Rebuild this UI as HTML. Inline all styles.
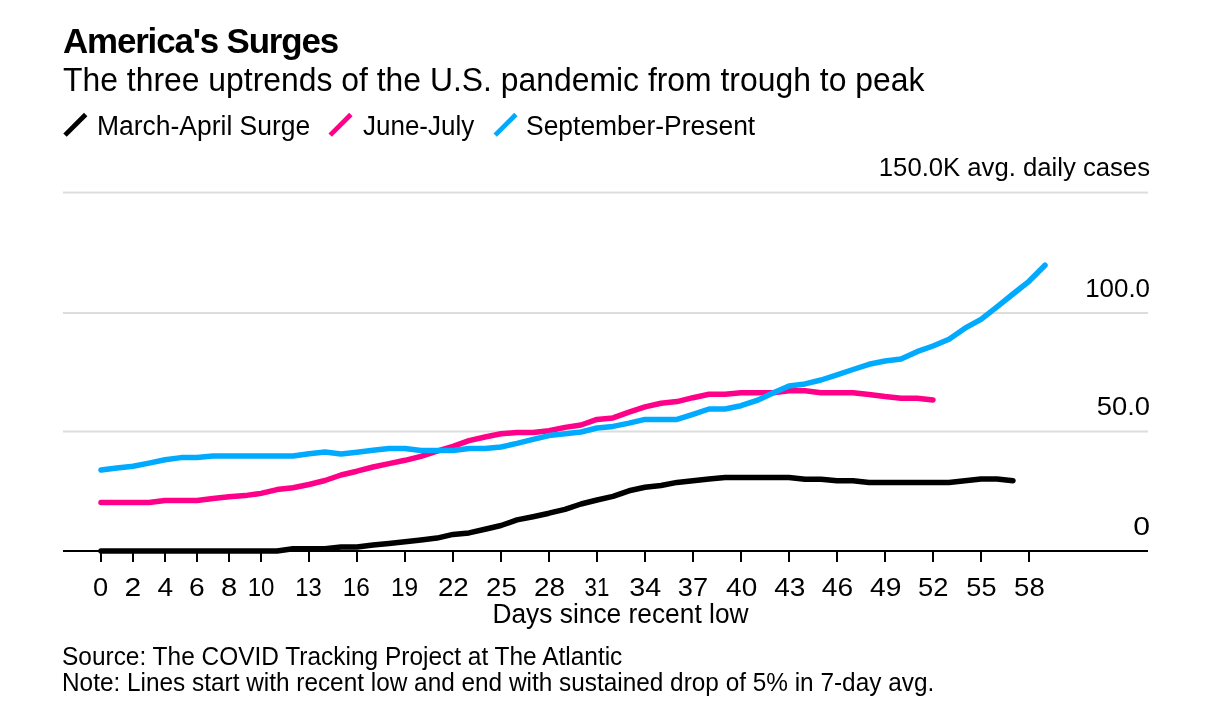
<!DOCTYPE html>
<html lang="en">
<head>
<meta charset="utf-8">
<title>America's Surges</title>
<style>
html,body{margin:0;padding:0;background:#fff;}
body{width:1214px;height:719px;position:relative;overflow:hidden;font-family:"Liberation Sans",sans-serif;color:#000;}
.chart{will-change:transform;position:absolute;margin:0;padding:0;left:0;top:0;width:1214px;height:719px;}
.t{position:absolute;margin:0;padding:0;white-space:nowrap;line-height:1;transform-origin:0 0;font-weight:400;}
.title{font-weight:700;}
.plot{position:absolute;left:0;top:0;}
.plot text{font-family:"Liberation Sans",sans-serif;fill:#000;}
</style>
</head>
<body>
<figure class="chart">
<h1 class="t title" style="left:62.60px;top:23.79px;font-size:34.5px;transform:scaleX(1.0120);letter-spacing:-1.15px;">America's Surges</h1>
<p class="t sub" style="left:63.00px;top:63.06px;font-size:33px;transform:scaleX(0.9662);">The three uptrends of the U.S. pandemic from trough to peak</p>
<svg class="plot" width="1214" height="719" viewBox="0 0 1214 719">
<rect x="63" y="191.55" width="1085" height="2" fill="#DDDDDD"/>
<rect x="63" y="312.00" width="1085" height="2" fill="#DDDDDD"/>
<rect x="63" y="430.50" width="1085" height="2" fill="#DDDDDD"/>
<rect x="63" y="550" width="1085" height="2" fill="#000"/>
<rect x="100.0" y="551" width="2" height="11" fill="#000"/>
<rect x="132.0" y="551" width="2" height="11" fill="#000"/>
<rect x="164.0" y="551" width="2" height="11" fill="#000"/>
<rect x="196.0" y="551" width="2" height="11" fill="#000"/>
<rect x="228.0" y="551" width="2" height="11" fill="#000"/>
<rect x="260.0" y="551" width="2" height="11" fill="#000"/>
<rect x="308.0" y="551" width="2" height="11" fill="#000"/>
<rect x="356.0" y="551" width="2" height="11" fill="#000"/>
<rect x="404.0" y="551" width="2" height="11" fill="#000"/>
<rect x="452.0" y="551" width="2" height="11" fill="#000"/>
<rect x="500.0" y="551" width="2" height="11" fill="#000"/>
<rect x="548.0" y="551" width="2" height="11" fill="#000"/>
<rect x="596.0" y="551" width="2" height="11" fill="#000"/>
<rect x="644.0" y="551" width="2" height="11" fill="#000"/>
<rect x="692.0" y="551" width="2" height="11" fill="#000"/>
<rect x="740.0" y="551" width="2" height="11" fill="#000"/>
<rect x="788.0" y="551" width="2" height="11" fill="#000"/>
<rect x="836.0" y="551" width="2" height="11" fill="#000"/>
<rect x="884.0" y="551" width="2" height="11" fill="#000"/>
<rect x="932.0" y="551" width="2" height="11" fill="#000"/>
<rect x="980.0" y="551" width="2" height="11" fill="#000"/>
<rect x="1028.0" y="551" width="2" height="11" fill="#000"/>
<polyline points="101.0,551.0 117.0,551.0 133.0,551.0 149.0,551.0 165.0,551.0 181.0,551.0 197.0,551.0 213.0,551.0 229.0,551.0 245.0,551.0 261.0,551.0 277.0,551.0 293.0,548.7 309.0,548.7 325.0,548.7 341.0,547.0 357.0,547.0 373.0,545.0 389.0,543.5 405.0,541.7 421.0,540.0 437.0,538.1 453.0,534.4 469.0,532.9 485.0,529.2 501.0,525.5 517.0,519.9 533.0,516.7 549.0,513.2 565.0,509.3 581.0,504.0 597.0,500.0 613.0,496.4 629.0,490.8 645.0,487.2 661.0,485.5 677.0,482.4 693.0,480.7 709.0,479.0 725.0,477.4 741.0,477.4 757.0,477.4 773.0,477.4 789.0,477.4 805.0,479.3 821.0,479.3 837.0,480.8 853.0,480.8 869.0,482.5 885.0,482.5 901.0,482.5 917.0,482.5 933.0,482.5 949.0,482.5 965.0,480.7 981.0,479.0 997.0,479.0 1013.0,480.7" stroke="#000" fill="none" stroke-width="5.5" stroke-linecap="round" stroke-linejoin="round"/>
<polyline points="101.0,502.6 117.0,502.6 133.0,502.6 149.0,502.6 165.0,500.5 181.0,500.5 197.0,500.5 213.0,498.5 229.0,496.8 245.0,495.6 261.0,493.4 277.0,489.6 293.0,487.8 309.0,484.5 325.0,480.5 341.0,475.0 357.0,471.2 373.0,467.0 389.0,463.6 405.0,460.3 421.0,456.4 437.0,451.1 453.0,446.3 469.0,440.6 485.0,437.0 501.0,433.8 517.0,432.4 533.0,432.6 549.0,430.7 565.0,427.4 581.0,425.0 597.0,419.4 613.0,417.9 629.0,412.2 645.0,406.9 661.0,403.3 677.0,401.6 693.0,397.7 709.0,394.2 725.0,394.2 741.0,392.7 757.0,392.7 773.0,392.7 789.0,390.7 805.0,390.7 821.0,392.7 837.0,392.7 853.0,392.7 869.0,394.6 885.0,396.6 901.0,398.2 917.0,398.2 933.0,399.9" stroke="#FF0088" fill="none" stroke-width="5.5" stroke-linecap="round" stroke-linejoin="round"/>
<polyline points="101.0,470.1 117.0,468.0 133.0,466.2 149.0,463.1 165.0,459.8 181.0,457.6 197.0,457.6 213.0,456.0 229.0,456.0 245.0,456.0 261.0,456.0 277.0,456.0 293.0,456.0 309.0,453.7 325.0,451.9 341.0,453.9 357.0,452.2 373.0,450.3 389.0,448.5 405.0,448.5 421.0,450.5 437.0,450.5 453.0,450.5 469.0,448.5 485.0,448.5 501.0,447.0 517.0,443.4 533.0,439.4 549.0,435.6 565.0,433.7 581.0,432.0 597.0,428.0 613.0,426.4 629.0,423.1 645.0,419.4 661.0,419.4 677.0,419.4 693.0,414.3 709.0,409.0 725.0,409.0 741.0,405.7 757.0,400.4 773.0,393.1 789.0,385.9 805.0,383.9 821.0,380.0 837.0,374.8 853.0,369.5 869.0,364.3 885.0,361.0 901.0,359.0 917.0,351.7 933.0,346.0 949.0,339.2 965.0,328.2 981.0,319.4 997.0,306.9 1013.0,294.0 1029.0,281.3 1045.0,265.2" stroke="#00ABFF" fill="none" stroke-width="5.5" stroke-linecap="round" stroke-linejoin="round"/>
<line x1="65.0" y1="135.1" x2="85.7" y2="114.5" stroke="#000" stroke-width="4.8"/>
<line x1="330.2" y1="135.1" x2="350.9" y2="114.5" stroke="#FF0088" stroke-width="4.8"/>
<line x1="495.2" y1="135.1" x2="515.9" y2="114.5" stroke="#00ABFF" stroke-width="4.8"/>
<g class="ylabels">
<text transform="translate(1150.00 176.00) scale(0.9880 1)" text-anchor="end" font-size="26">150.0K avg. daily cases</text>
<text transform="translate(1150.00 297.00) scale(0.9970 1)" text-anchor="end" font-size="26">100.0</text>
<text transform="translate(1150.00 415.00) scale(1.0526 1)" text-anchor="end" font-size="26">50.0</text>
<text transform="translate(1150.00 535.00) scale(1.1586 1)" text-anchor="end" font-size="26">0</text>
</g>
<g class="xlabels" text-anchor="middle" font-size="26">
<text transform="translate(100.53 596.00) scale(1.0508 1)">0</text>
<text transform="translate(132.95 596.00) scale(1.1566 1)">2</text>
<text transform="translate(165.39 596.00) scale(1.0838 1)">4</text>
<text transform="translate(196.80 596.00) scale(1.0836 1)">6</text>
<text transform="translate(229.15 596.00) scale(1.1229 1)">8</text>
<text transform="translate(261.05 596.00) scale(0.9258 1)">10</text>
<text transform="translate(308.42 596.00) scale(0.9148 1)">13</text>
<text transform="translate(356.31 596.00) scale(0.9381 1)">16</text>
<text transform="translate(404.55 596.00) scale(0.9413 1)">19</text>
<text transform="translate(453.35 596.00) scale(1.0683 1)">22</text>
<text transform="translate(501.44 596.00) scale(1.0596 1)">25</text>
<text transform="translate(549.40 596.00) scale(1.0724 1)">28</text>
<text transform="translate(596.97 596.00) scale(0.8590 1)">31</text>
<text transform="translate(645.17 596.00) scale(1.1042 1)">34</text>
<text transform="translate(693.02 596.00) scale(1.0480 1)">37</text>
<text transform="translate(741.63 596.00) scale(1.0766 1)">40</text>
<text transform="translate(789.84 596.00) scale(1.0780 1)">43</text>
<text transform="translate(837.40 596.00) scale(1.0817 1)">46</text>
<text transform="translate(885.64 596.00) scale(1.0852 1)">49</text>
<text transform="translate(933.29 596.00) scale(1.0500 1)">52</text>
<text transform="translate(981.38 596.00) scale(1.0415 1)">55</text>
<text transform="translate(1029.40 596.00) scale(1.0580 1)">58</text>
</g>
<text class="xtitle" transform="translate(620.50 623.00) scale(0.9760 1)" text-anchor="middle" font-size="27">Days since recent low</text>
</svg>
<span class="t legend" style="left:97.40px;top:113.14px;font-size:27px;transform:scaleX(0.9800);">March-April Surge</span>
<span class="t legend" style="left:363.30px;top:113.14px;font-size:27px;transform:scaleX(0.9620);">June-July</span>
<span class="t legend" style="left:526.40px;top:113.14px;font-size:27px;transform:scaleX(0.9790);">September-Present</span>
<p class="t source" style="left:62.40px;top:644.43px;font-size:25px;transform:scaleX(0.9780);">Source: The COVID Tracking Project at The Atlantic</p>
<p class="t note" style="left:62.20px;top:669.73px;font-size:25px;transform:scaleX(0.9746);">Note: Lines start with recent low and end with sustained drop of 5% in 7-day avg.</p>
</figure>
</body>
</html>
